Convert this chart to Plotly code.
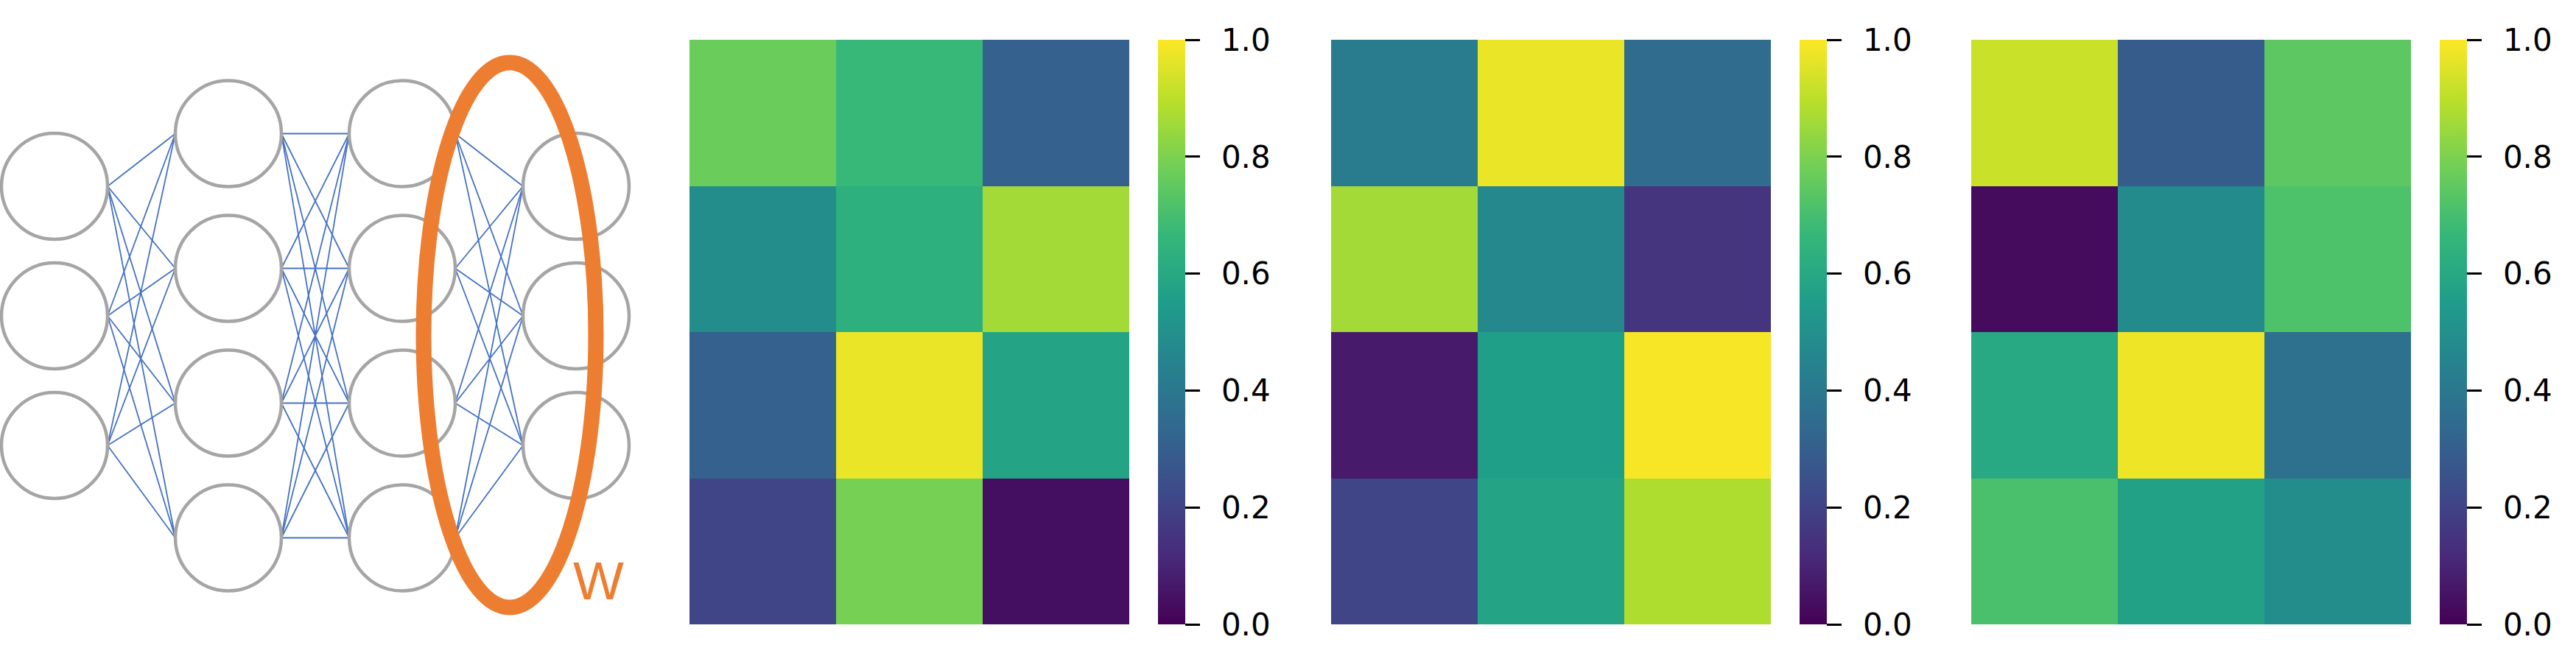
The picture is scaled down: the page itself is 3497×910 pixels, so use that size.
import plotly.graph_objects as go

# ---------------- data ----------------
layer_sizes = [3, 4, 4, 3]          # neurons per layer in the diagram
highlight_label = "W"

W1 = [[0.77, 0.67, 0.31],
      [0.49, 0.63, 0.86],
      [0.31, 0.97, 0.58],
      [0.21, 0.79, 0.04]]
W2 = [[0.42, 0.97, 0.35],
      [0.86, 0.47, 0.15],
      [0.07, 0.56, 0.99],
      [0.21, 0.58, 0.88]]
W3 = [[0.92, 0.29, 0.745],
      [0.03, 0.48, 0.715],
      [0.60, 0.975, 0.37],
      [0.71, 0.57, 0.49]]
matrices = [W1, W2, W3]
cbar_ticks = [0.0, 0.2, 0.4, 0.6, 0.8, 1.0]

# ---------------- layout constants ----------------
FW, FH = 3497, 910
heat_left = [936, 1807, 2676]
heat_w = 597
heat_top, heat_bot = 54, 848
cbar_gap, cbar_thick = 39, 37

layer_x0, layer_dx = 74, 236
node_r = 72
spacing = {3: 176, 4: 183}
center_y = {3: 429, 4: 456}

GRAY = "#a5a5a5"
BLUE = "#4472c4"
ORANGE = "#ed7d31"

fig = go.Figure()

# ---------------- heatmaps ----------------
ydom = [1 - heat_bot / FH, 1 - heat_top / FH]
for i, (Z, hl) in enumerate(zip(matrices, heat_left)):
    ax = "" if i == 0 else str(i + 1)
    fig.add_trace(go.Heatmap(
        z=Z, x=[0, 1, 2], y=[0, 1, 2, 3],
        xaxis="x" + ax, yaxis="y" + ax,
        colorscale="Viridis", zmin=0, zmax=1,
        colorbar=dict(
            x=(hl + heat_w + cbar_gap) / FW, xanchor="left",
            y=sum(ydom) / 2, yanchor="middle",
            len=heat_bot - heat_top, lenmode="pixels",
            thickness=cbar_thick, thicknessmode="pixels",
            xpad=0, ypad=0, outlinewidth=0,
            tickvals=cbar_ticks,
            ticktext=["\u2002" + f"{t:.1f}" for t in cbar_ticks],
            ticks="outside", ticklen=20, tickwidth=3, tickcolor="#000",
            tickfont=dict(family="DejaVu Sans", size=42, color="#000"),
        ),
        showscale=True, hoverinfo="z",
    ))
    fig.update_layout(**{
        "xaxis" + ax: dict(domain=[hl / FW, (hl + heat_w) / FW], range=[-0.5, 2.5],
                          visible=False, showgrid=False, zeroline=False),
        "yaxis" + ax: dict(domain=ydom, range=[3.5, -0.5],
                          visible=False, showgrid=False, zeroline=False),
    })

# ---------------- network diagram ----------------
positions = []
for li, n in enumerate(layer_sizes):
    cx = layer_x0 + li * layer_dx
    ys = [center_y[n] + (k - (n - 1) / 2) * spacing[n] for k in range(n)]
    positions.append([(cx, y) for y in ys])

lx, ly = [], []
for a, b in zip(positions[:-1], positions[1:]):
    for (x0, y0) in a:
        for (x1, y1) in b:
            lx += [x0 + node_r, x1 - node_r, None]
            ly += [y0, y1, None]
fig.add_trace(go.Scatter(x=lx, y=ly, mode="lines", xaxis="x4", yaxis="y4",
                         line=dict(color=BLUE, width=1.8), hoverinfo="skip",
                         showlegend=False))

shapes = []
for layer in positions:
    for (cx, cy) in layer:
        shapes.append(dict(type="circle", xref="x4", yref="y4",
                           x0=cx - node_r, x1=cx + node_r,
                           y0=cy - node_r, y1=cy + node_r,
                           line=dict(color=GRAY, width=4.5),
                           fillcolor="rgba(0,0,0,0)", layer="above"))
# highlight ellipse around last weight layer
ecx, ecy, erx, ery = 692, 455, 117, 370
shapes.append(dict(type="circle", xref="x4", yref="y4",
                   x0=ecx - erx, x1=ecx + erx, y0=ecy - ery, y1=ecy + ery,
                   line=dict(color=ORANGE, width=21),
                   fillcolor="rgba(0,0,0,0)", layer="above"))

fig.update_layout(
    xaxis4=dict(domain=[0, 900 / FW], range=[0, 900], visible=False,
                showgrid=False, zeroline=False),
    yaxis4=dict(domain=[0, 1], range=[FH, 0], visible=False,
                showgrid=False, zeroline=False),
    shapes=shapes,
    annotations=[dict(x=812, y=788, xref="x4", yref="y4", text=highlight_label,
                      showarrow=False, xanchor="center", yanchor="middle",
                      font=dict(family="Liberation Sans", size=73, color=ORANGE))],
    width=FW, height=FH,
    margin=dict(l=0, r=0, t=0, b=0),
    paper_bgcolor="white", plot_bgcolor="white",
    showlegend=False,
)

fig.write_html("out.html",
               config={"displayModeBar": False, "staticPlot": True},
               post_script="document.body.style.margin='0';document.body.style.overflow='hidden';")
